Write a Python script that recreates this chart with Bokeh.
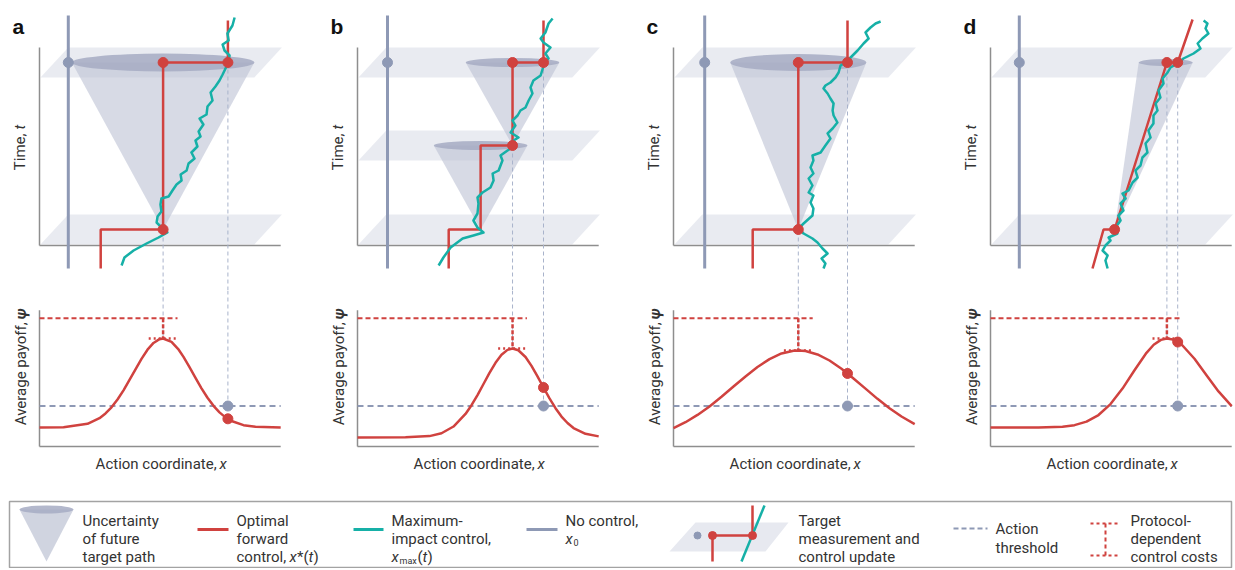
import math
from bokeh.plotting import figure
from bokeh.layouts import column, row
from bokeh.models import Range1d
from bokeh.core.properties import value
from bokeh.embed import file_html
from bokeh.resources import INLINE

# ======================= DATA =======================
panel_labels = ["a", "b", "c", "d"]

# times of target measurement / control update (time units)
t_meas_a = [0.8, 9.15]
t_meas_b = [0.8, 5.0, 9.15]
t_meas_c = [0.8, 9.15]
t_meas_d = [0.8, 9.15]

# no-control action x0
x_noctrl = [1.2, 1.25, 1.3, 1.2]

# optimal forward control x*(t)
opt_x_a = [2.55, 2.55, 5.15, 5.15, 7.85, 7.85]
opt_t_a = [-1.15, 0.8, 0.8, 9.15, 9.15, 11.25]
opt_x_b = [3.8, 3.8, 5.13, 5.13, 6.46, 6.46, 7.75, 7.75]
opt_t_b = [-1.15, 0.8, 0.8, 5.0, 5.0, 9.15, 9.15, 11.25]
opt_x_c = [3.3, 3.3, 5.2, 5.2, 7.25, 7.25]
opt_t_c = [-1.15, 0.8, 0.8, 9.15, 9.15, 11.25]
opt_x_d = [4.25, 4.71, 5.17, 7.35, 7.8, 8.42]
opt_t_d = [-1.15, 0.8, 0.8, 9.15, 9.15, 11.3]

# measurement points on the optimal control
meas_x_a = [5.15, 5.15, 7.85]
meas_t_a = [0.8, 9.15, 9.15]
meas_x_b = [6.46, 6.46, 7.75]
meas_t_b = [5.0, 9.15, 9.15]
meas_x_c = [5.2, 5.2, 7.25]
meas_t_c = [0.8, 9.15, 9.15]
meas_x_d = [5.17, 7.35, 7.8]
meas_t_d = [0.8, 9.15, 9.15]

# uncertainty cones: apex (x, t), top centre (x, t), top width
cone_ax_a = [5.15]; cone_at_a = [0.8]; cone_cx_a = [5.15]; cone_ct_a = [9.15]; cone_w_a = [7.6]
cone_ax_b = [5.13, 6.46]; cone_at_b = [0.8, 5.0]; cone_cx_b = [5.13, 6.46]; cone_ct_b = [5.0, 9.15]; cone_w_b = [3.9, 3.9]
cone_ax_c = [5.2]; cone_at_c = [0.8]; cone_cx_c = [5.2]; cone_ct_c = [9.15]; cone_w_c = [5.67]
cone_ax_d = [5.17]; cone_at_d = [0.8]; cone_cx_d = [7.3]; cone_ct_d = [9.15]; cone_w_d = [2.25]

# maximum-impact control x_max(t)
teal_x_a = [3.42, 3.54, 3.92, 4.46, 4.96, 5.33, 5.13, 4.88, 4.92, 5.08, 5.04, 5.08, 5.38, 5.54, 5.71,
            5.92, 5.88, 6.13, 6.21, 6.46, 6.33, 6.58, 6.50, 6.71, 6.63, 6.83, 6.67, 6.96, 7.00, 7.21,
            7.13, 7.33, 7.50, 7.63, 7.79, 7.88, 7.92, 7.71, 7.63, 7.88, 7.83, 8.04, 8.13]
teal_t_a = [-1.0, -0.6, -0.25, 0.1, 0.4, 0.65, 0.85, 1.15, 1.45, 1.7, 2.05, 2.35, 2.45, 2.75, 3.05,
            3.25, 3.55, 3.75, 4.1, 4.35, 4.65, 4.95, 5.25, 5.45, 5.7, 6.05, 6.35, 6.55, 6.95, 7.25,
            7.65, 7.95, 8.25, 8.55, 8.95, 9.25, 9.5, 9.75, 10.05, 10.25, 10.6, 11.0, 11.4]
teal_x_b = [3.38, 3.58, 3.88, 4.38, 4.83, 5.25, 5.0, 4.83, 5.0, 5.04, 5.0, 5.21, 5.54, 5.67, 5.63,
            5.88, 6.04, 5.96, 6.25, 6.46, 6.5, 6.71, 6.38, 6.58, 6.46, 6.67, 6.79, 7.0, 7.13, 7.29,
            7.21, 7.33, 7.63, 7.72, 7.8, 7.96, 7.83, 8.04, 7.75, 7.63, 7.83, 7.96, 8.13]
teal_t_b = [-1.0, -0.6, -0.1, 0.35, 0.5, 0.65, 0.9, 1.25, 1.6, 2.1, 2.4, 2.65, 2.9, 3.25, 3.6,
            3.75, 4.25, 4.5, 4.75, 4.9, 5.25, 5.4, 5.65, 6.0, 6.25, 6.5, 6.75, 6.9, 7.25, 7.6,
            7.9, 8.25, 8.5, 8.85, 9.15, 9.35, 9.6, 9.9, 10.15, 10.35, 10.65, 11.1, 11.35]
teal_x_c = [6.25, 6.33, 6.17, 6.42, 6.21, 6.0, 5.79, 5.42, 5.21, 5.42, 5.79, 5.83, 5.71, 5.83, 5.63,
            5.79, 5.63, 5.83, 5.71, 5.83, 5.79, 6.13, 6.33, 6.54, 6.42, 6.63, 6.83, 6.67, 6.63, 6.67,
            6.54, 6.42, 6.25, 6.33, 6.54, 6.75, 6.88, 6.96, 7.17, 7.38, 7.67, 7.92, 8.13, 8.0, 8.21,
            8.42, 8.63]
teal_t_c = [-1.15, -0.9, -0.65, -0.4, -0.15, 0.15, 0.35, 0.6, 0.85, 1.1, 1.5, 1.85, 2.15, 2.5, 2.65,
            3.0, 3.35, 3.6, 3.9, 4.25, 4.5, 4.65, 5.0, 5.35, 5.6, 5.85, 6.15, 6.5, 6.75, 7.1,
            7.35, 7.6, 7.85, 8.0, 8.15, 8.4, 8.65, 9.0, 9.15, 9.4, 9.75, 10.1, 10.35, 10.65, 10.9,
            11.1, 11.2]
teal_x_d = [4.88, 4.79, 4.88, 4.67, 4.79, 5.0, 4.92, 5.29, 5.21, 5.42, 5.33, 5.54, 5.42, 5.63, 5.5,
            5.75, 5.92, 6.13, 6.04, 6.25, 6.33, 6.54, 6.46, 6.67, 6.58, 6.79, 6.79, 6.96, 6.88, 7.08,
            7.0, 7.21, 7.17, 7.38, 7.5, 7.79, 8.04, 8.46, 8.75, 8.63, 8.83, 9.08, 8.96, 9.04, 8.88]
teal_t_d = [-1.15, -0.75, -0.5, -0.25, 0.0, 0.25, 0.4, 0.6, 0.9, 1.25, 1.5, 1.75, 2.1, 2.35, 2.6,
            2.75, 3.15, 3.4, 3.75, 4.0, 4.4, 4.65, 5.1, 5.4, 5.75, 6.1, 6.5, 6.75, 7.1, 7.4,
            7.75, 8.1, 8.35, 8.65, 8.9, 9.1, 9.35, 9.6, 9.85, 10.1, 10.35, 10.6, 10.85, 11.1, 11.25]

# average payoff vs action coordinate
pay_x_a = [0, 1, 2, 2.5, 2.75, 3, 3.25, 3.5, 3.75, 4, 4.25, 4.5, 4.75, 5, 5.15, 5.5, 5.8, 6, 6.25,
           6.5, 6.75, 7, 7.25, 7.5, 7.75, 8, 8.5, 9, 10.05]
pay_y_a = [1.40, 1.43, 1.68, 2.10, 2.45, 2.90, 3.48, 4.16, 4.93, 5.72, 6.49, 7.17, 7.67, 7.95, 8.00,
           7.75, 7.17, 6.64, 5.88, 5.08, 4.31, 3.61, 3.01, 2.53, 2.16, 1.89, 1.58, 1.46, 1.40]
pay_x_b = [0, 2, 3, 3.5, 4, 4.5, 4.75, 5, 5.25, 5.5, 5.75, 6, 6.25, 6.46, 6.7, 7, 7.25, 7.5, 7.75,
           8, 8.25, 8.5, 8.75, 9, 9.5, 10.05]
pay_y_b = [0.67, 0.68, 0.77, 0.98, 1.48, 2.41, 3.06, 3.81, 4.63, 5.46, 6.20, 6.79, 7.16, 7.26, 7.13,
           6.63, 5.97, 5.20, 4.37, 3.56, 2.84, 2.22, 1.74, 1.37, 0.94, 0.75]
pay_x_c = [0, 0.5, 1, 1.5, 2, 2.5, 3, 3.5, 4, 4.5, 5, 5.2, 5.5, 6, 6.5, 7, 7.25, 7.5, 8, 8.5, 9,
           9.5, 10.05]
pay_y_c = [1.37, 1.80, 2.34, 2.97, 3.68, 4.44, 5.19, 5.89, 6.47, 6.89, 7.09, 7.11, 7.07, 6.82, 6.37,
           5.76, 5.41, 5.04, 4.29, 3.53, 2.84, 2.22, 1.66]
pay_x_d = [0, 2, 3, 3.5, 4, 4.5, 5, 5.5, 6, 6.5, 6.8, 7.1, 7.35, 7.6, 7.8, 8, 8.5, 9, 9.5, 10.05]
pay_y_d = [1.40, 1.41, 1.47, 1.58, 1.84, 2.33, 3.14, 4.29, 5.65, 6.94, 7.54, 7.90, 8.00, 7.92, 7.74,
           7.48, 6.50, 5.28, 4.08, 2.99]

x_peak = [5.15, 6.46, 5.2, 7.35]      # optimal action x*
psi_peak = [8.0, 7.26, 7.11, 8.0]
x_update = [7.85, 7.75, 7.25, 7.8]    # action after the final update
psi_update = [2.05, 4.37, 5.41, 7.74]
psi_threshold = 3.0
psi_cost = 9.5
cost_half_width = 0.6

# legend texts
leg_cone_text = ["Uncertainty", "of future", "target path"]
leg_opt_text = ["Optimal", "forward"]
leg_max_text = ["Maximum-", "impact control,"]
leg_target_text = ["Target", "measurement and", "control update"]
leg_thr_text = ["Action", "threshold"]
leg_cost_text = ["Protocol-", "dependent", "control costs"]

# ======================= STYLE / LAYOUT =======================
RED = "#d0423f"
TEAL = "#16b0a7"
NOCTRL = "#8e99b5"
AXIS = "#8e8e8e"
THIN = "#a9b3cb"
PLANE = "#e7e9f0"
CONE = "#bcc2d3"
ELL = "#a6acc3"
TXT = "#333333"
FONT = value("Roboto")

SX, ST, SP = 24.0, 20.0, 13.5       # px per unit
TOP_Y0, TOP_H, BOT_H, LEG_H = 0, 290, 190, 88
T0_PX, P0_PX = 245, 446              # page y of t = 0 and psi = 0
panel_left = [0, 320, 637, 955]
panel_w = [320, 317, 318, 278]
axis_px = [39, 357, 673, 990]
AX_X_END, AX_T_END, AX_P_END = 10.05, 9.9, 10.1
ell_h = [0.9, 0.45, 0.85, 0.35]

t_meas = [t_meas_a, t_meas_b, t_meas_c, t_meas_d]
opt_x = [opt_x_a, opt_x_b, opt_x_c, opt_x_d]
opt_t = [opt_t_a, opt_t_b, opt_t_c, opt_t_d]
meas_x = [meas_x_a, meas_x_b, meas_x_c, meas_x_d]
meas_t = [meas_t_a, meas_t_b, meas_t_c, meas_t_d]
cones = [
    (cone_ax_a, cone_at_a, cone_cx_a, cone_ct_a, cone_w_a),
    (cone_ax_b, cone_at_b, cone_cx_b, cone_ct_b, cone_w_b),
    (cone_ax_c, cone_at_c, cone_cx_c, cone_ct_c, cone_w_c),
    (cone_ax_d, cone_at_d, cone_cx_d, cone_ct_d, cone_w_d),
]
teal_x = [teal_x_a, teal_x_b, teal_x_c, teal_x_d]
teal_t = [teal_t_a, teal_t_b, teal_t_c, teal_t_d]
pay_x = [pay_x_a, pay_x_b, pay_x_c, pay_x_d]
pay_y = [pay_y_a, pay_y_b, pay_y_c, pay_y_d]


def base_fig(w, h, xr, yr):
    p = figure(width=w, height=h, x_range=xr, y_range=yr, output_backend="svg",
               toolbar_location=None, x_axis_type=None, y_axis_type=None, title=None,
               min_border=0, outline_line_color=None, background_fill_color="white",
               border_fill_color="white")
    p.min_border_left = p.min_border_right = p.min_border_top = p.min_border_bottom = 0
    return p


def txt(p, x, y, s, size="15px", style="normal", align="left", baseline="middle",
        angle=0.0, color=TXT, font=FONT):
    p.text(x=[x], y=[y], text=[s], text_font=font, text_font_size=size,
           text_font_style=style, text_align=align, text_baseline=baseline,
           angle=angle, text_color=color)


def top_fig(i):
    L, W, X0 = panel_left[i], panel_w[i], axis_px[i]
    t_lo = (T0_PX - (TOP_Y0 + TOP_H)) / ST
    t_hi = (T0_PX - TOP_Y0) / ST
    p = base_fig(W, TOP_H, Range1d((L - X0) / SX, (L + W - X0) / SX), Range1d(t_lo, t_hi))
    # measurement planes
    for tm in t_meas[i]:
        p.patch([0.04, 8.95, 10.1, 1.2], [tm - 0.75, tm - 0.75, tm + 0.75, tm + 0.75],
                fill_color=PLANE, fill_alpha=0.9, line_color=None)
    # axes
    p.line([0, 0], [0, AX_T_END], line_color=AXIS, line_width=1.5)
    p.line([0, AX_X_END], [0, 0], line_color=AXIS, line_width=1.5)
    # cones
    ax, at, cx, ct, cw = cones[i]
    for k in range(len(ax)):
        p.patch([ax[k], cx[k] - cw[k] / 2, cx[k] + cw[k] / 2], [at[k], ct[k], ct[k]],
                fill_color=CONE, fill_alpha=0.6, line_color=None)
        p.ellipse(x=[cx[k]], y=[ct[k]], width=[cw[k]], height=[ell_h[i]],
                  fill_color=ELL, fill_alpha=0.85, line_color=None)
    # no control
    x0 = x_noctrl[i]
    p.line([x0, x0], [-1.15, 11.5], line_color=NOCTRL, line_width=3)
    p.scatter([x0], [t_meas[i][-1]], size=10, color=NOCTRL)
    # thin dashed guides
    for xv in (x_peak[i], x_update[i]):
        p.line([xv, xv], [t_meas[i][-1], t_lo], line_color=THIN, line_width=1, line_dash="4 3")
    # controls
    p.line(opt_x[i], opt_t[i], line_color=RED, line_width=2.5)
    p.line(teal_x[i], teal_t[i], line_color=TEAL, line_width=2.5, line_join="round")
    p.scatter(meas_x[i], meas_t[i], size=10, color=RED)
    # labels
    txt(p, -1.12, 10.95, panel_labels[i], size="21px", style="bold", baseline="alphabetic",
        color="#111111", font=value("Liberation Sans"))
    txt(p, -0.8, 5.6, "Time,", align="right", angle=math.pi / 2)
    txt(p, -0.8, 5.8, "t", style="italic", align="left", angle=math.pi / 2)
    return p


def bot_fig(i):
    L, W, X0 = panel_left[i], panel_w[i], axis_px[i]
    y0 = TOP_Y0 + TOP_H
    p_lo = (P0_PX - (y0 + BOT_H)) / SP
    p_hi = (P0_PX - y0) / SP
    p = base_fig(W, BOT_H, Range1d((L - X0) / SX, (L + W - X0) / SX), Range1d(p_lo, p_hi))
    p.line([0, 0], [0, AX_P_END], line_color=AXIS, line_width=1.5)
    p.line([0, AX_X_END], [0, 0], line_color=AXIS, line_width=1.5)
    xp, xu = x_peak[i], x_update[i]
    p.line([xp, xp], [p_hi, psi_peak[i]], line_color=THIN, line_width=1, line_dash="4 3")
    p.line([xu, xu], [p_hi, psi_threshold], line_color=THIN, line_width=1, line_dash="4 3")
    p.line([0, AX_X_END], [psi_threshold, psi_threshold], line_color=NOCTRL, line_width=2,
           line_dash="6 4")
    # protocol-dependent control costs
    p.line([0, xp + cost_half_width], [psi_cost, psi_cost], line_color=RED, line_width=2,
           line_dash="5 3")
    p.line([xp, xp], [psi_cost, psi_peak[i]], line_color=RED, line_width=2.5, line_dash="4 2")
    p.line([xp - cost_half_width, xp + cost_half_width], [psi_peak[i], psi_peak[i]],
           line_color=RED, line_width=2.5, line_dash="2 3")
    p.line(pay_x[i], pay_y[i], line_color=RED, line_width=2.5, line_join="round")
    p.scatter([xu], [psi_threshold], size=10, color=NOCTRL)
    p.scatter([xu], [psi_update[i]], size=10, color=RED)
    txt(p, 7.38, -1.26, "Action coordinate,", align="right")
    txt(p, 7.5, -1.26, "x", style="italic")
    txt(p, -0.78, 9.2, "Average payoff,", align="right", angle=math.pi / 2)
    txt(p, -0.78, 9.42, "\u03c8", style="bold italic", angle=math.pi / 2)
    return p


def legend_fig():
    W = sum(panel_w)
    p = base_fig(W, LEG_H, Range1d(0, W), Range1d(LEG_H, 0))
    p.quad(left=[9], right=[1231], top=[21], bottom=[87], fill_color=None,
           line_color="#a3a3a3", line_width=1.5)
    l1, l2, l3 = 40, 58, 76
    # cone
    p.patch([19, 73, 46], [29, 29, 81], fill_color=CONE, fill_alpha=0.7, line_color=None)
    p.ellipse(x=[46], y=[29], width=[54], height=[8], fill_color=ELL, fill_alpha=0.85,
              line_color=None)
    for s, y in zip(leg_cone_text, (l1, l2, l3)):
        txt(p, 82, y, s)
    # optimal
    p.line([197, 228], [49, 49], line_color=RED, line_width=3)
    for s, y in zip(leg_opt_text, (l1, l2)):
        txt(p, 236, y, s)
    txt(p, 236, l3, "control,")
    txt(p, 289, l3, "x", style="italic")
    txt(p, 296.5, l3, "*(")
    txt(p, 308, l3, "t", style="italic")
    txt(p, 313, l3, ")")
    # maximum impact
    p.line([353, 383], [49, 49], line_color=TEAL, line_width=3)
    for s, y in zip(leg_max_text, (l1, l2)):
        txt(p, 391, y, s)
    txt(p, 391, l3, "x", style="italic")
    txt(p, 399, l3 + 4, "max", size="9px")
    txt(p, 417, l3, "(")
    txt(p, 422, l3, "t", style="italic")
    txt(p, 427, l3, ")")
    # no control
    p.line([526, 557], [49, 49], line_color=NOCTRL, line_width=3)
    txt(p, 565, l1, "No control,")
    txt(p, 565, l2, "x", style="italic")
    txt(p, 573, l2 + 4, "0", size="9px")
    # target measurement and control update
    p.patch([669, 695, 788, 765], [71, 42, 42, 71], fill_color=PLANE, fill_alpha=1,
            line_color=None)
    p.scatter([697], [55], size=7, color=NOCTRL)
    p.line([712, 712, 752, 752], [81, 55, 55, 25], line_color=RED, line_width=2.5)
    p.line([741, 764], [81, 25], line_color=TEAL, line_width=2.5)
    p.scatter([712, 752], [55, 55], size=8, color=RED)
    for s, y in zip(leg_target_text, (l1, l2, l3)):
        txt(p, 798, y, s)
    # action threshold
    p.line([953, 987], [48, 48], line_color=NOCTRL, line_width=2, line_dash="5 3")
    txt(p, 995, 48, leg_thr_text[0])
    txt(p, 995, 67, leg_thr_text[1])
    # protocol-dependent control costs
    p.line([1090, 1118], [43, 43], line_color=RED, line_width=2, line_dash="3 3")
    p.line([1090, 1118], [75, 75], line_color=RED, line_width=2, line_dash="3 3")
    p.line([1105, 1105], [43, 75], line_color=RED, line_width=2, line_dash="4 3")
    for s, y in zip(leg_cost_text, (l1, l2, l3)):
        txt(p, 1130, y, s)
    return p


tops = [top_fig(i) for i in range(4)]
bots = [bot_fig(i) for i in range(4)]
layout = column(row(*tops, spacing=0), row(*bots, spacing=0), legend_fig(), spacing=0)

open("out.html", "w").write(file_html(layout, INLINE))
